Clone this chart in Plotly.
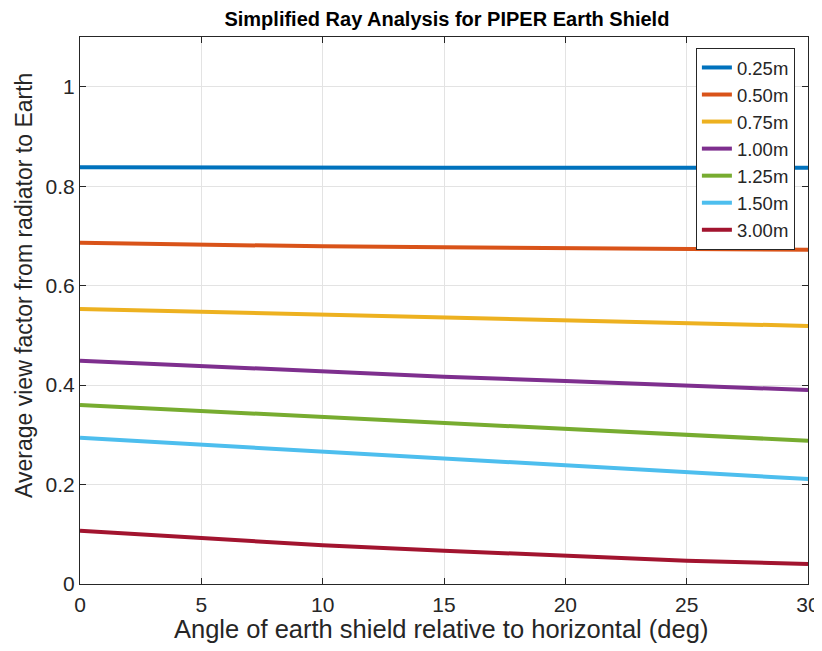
import plotly.graph_objects as go

angles = [0, 5, 10, 15, 20, 25, 30]
labels = ["0.25m", "0.50m", "0.75m", "1.00m", "1.25m", "1.50m", "3.00m"]
vf_025 = [0.838, 0.837, 0.837, 0.837, 0.837, 0.837, 0.837]
vf_050 = [0.686, 0.682, 0.679, 0.677, 0.675, 0.673, 0.672]
vf_075 = [0.553, 0.547, 0.542, 0.536, 0.529, 0.525, 0.519]
vf_100 = [0.449, 0.438, 0.427, 0.417, 0.408, 0.399, 0.390]
vf_125 = [0.360, 0.348, 0.337, 0.323, 0.311, 0.300, 0.288]
vf_150 = [0.294, 0.280, 0.266, 0.252, 0.238, 0.224, 0.211]
vf_300 = [0.107, 0.092, 0.078, 0.067, 0.057, 0.047, 0.040]
series = [vf_025, vf_050, vf_075, vf_100, vf_125, vf_150, vf_300]
colors = ["#0072BD", "#D95319", "#EDB120", "#7E2F8E", "#77AC30", "#4DBEEE", "#A2142F"]

fig = go.Figure()
for i, (lab, vals, c) in enumerate(zip(labels, series, colors)):
    fig.add_trace(go.Scatter(x=angles, y=vals, mode="lines", name=lab,
                             legendgroup=f"g{i}",
                             line=dict(color=c, width=4)))

axis_common = dict(
    showline=True, linecolor="#262626", linewidth=1, mirror="ticks",
    ticks="inside", ticklen=6, tickcolor="#262626",
    showgrid=True, gridcolor="#e3e3e3", gridwidth=1,
    zeroline=False, automargin=False,
    tickfont=dict(family="Liberation Sans, Arial", size=21, color="#262626"),
)

# page body has an 8px margin: figure is shifted by 8px right and down
fig.update_layout(
    width=814, height=643,
    margin=dict(l=72, r=14, t=29, b=67, autoexpand=False),
    paper_bgcolor="white", plot_bgcolor="white",
    font=dict(family="Liberation Sans, Arial", color="#262626"),
    title=dict(text="<b>Simplified Ray Analysis for PIPER Earth Shield</b>",
               x=0.504, xref="paper", xanchor="center",
               y=1 - 11 / 643, yanchor="middle", yref="container",
               font=dict(size=20, color="black")),
    xaxis=dict(range=[0, 30], tickvals=[0, 5, 10, 15, 20, 25, 30],
               ticklabelstandoff=2, **axis_common),
    yaxis=dict(range=[0, 1.1], tickvals=[0, 0.2, 0.4, 0.6, 0.8, 1.0],
               ticktext=["0", "0.2", "0.4", "0.6", "0.8", "1"],
               **axis_common),
    annotations=[
        dict(text="Angle of earth shield relative to horizontal (deg)",
             xref="paper", yref="paper", x=0.496, y=-0.082,
             xanchor="center", yanchor="middle", showarrow=False,
             font=dict(size=25.5, color="#262626")),
        dict(text="Average view factor from radiator to Earth",
             xref="paper", yref="paper", x=-0.0769, y=0.545, textangle=-90,
             xanchor="center", yanchor="middle", showarrow=False,
             font=dict(size=23, color="#262626")),
    ],
    legend=dict(x=0.982, xanchor="right", y=0.98, yanchor="top",
                bgcolor="white", bordercolor="#262626", borderwidth=1,
                font=dict(size=18.5, color="#262626"), tracegroupgap=0),
    showlegend=True,
)

fig.write_html("out.html")
